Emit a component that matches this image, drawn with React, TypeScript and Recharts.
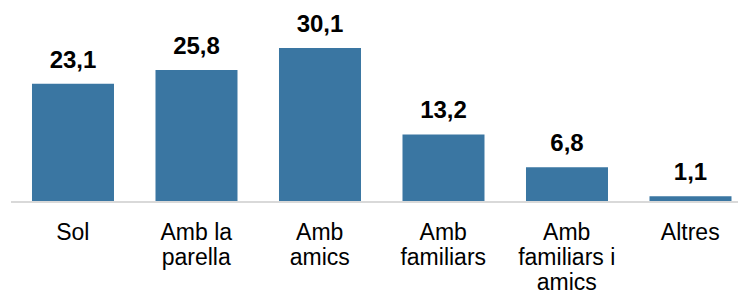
import { BarChart, Bar, XAxis, YAxis, LabelList } from "recharts";

const categories = [
    "Sol",
    "Amb la\nparella",
    "Amb\namics",
    "Amb\nfamiliars",
    "Amb\nfamiliars i\namics",
    "Altres",
];
const values = [23.1, 25.8, 30.1, 13.2, 6.8, 1.1];

const data = categories.map((name, i) => ({ name, value: values[i] }));

const FONT = "'Liberation Sans', Arial, sans-serif";

function CategoryTick({ x, y, payload }: any) {
    const lines = String(payload.value).split("\n");
    return (
        <text x={x} y={y} textAnchor="middle" fill="#000" fontSize={23} fontFamily={FONT}>
            {lines.map((line, i) => (
                <tspan key={i} x={x} dy={i === 0 ? 30 : 25}>
                    {line}
                </tspan>
            ))}
        </text>
    );
}

export default function App() {
    // wrapper cancels the body margin so chart coords match the page
    return (
        <div style={{ margin: -8, width: 746, height: 304, overflow: "hidden", background: "#fff" }}>
            <BarChart
                width={752}
                height={296}
                data={data}
                margin={{ top: 48, right: 0, left: 11, bottom: 0 }}
                barCategoryGap="17%"
                style={{ overflow: "visible" }}
            >
                <XAxis
                    dataKey="name"
                    height={94}
                    interval={0}
                    tickLine={false}
                    axisLine={{ stroke: "#d9d9d9", strokeWidth: 2 }}
                    tick={<CategoryTick />}
                />
                <YAxis hide domain={[0, "dataMax"]} />
                <Bar dataKey="value" fill="#3a76a2" isAnimationActive={false}>
                    <LabelList
                        dataKey="value"
                        position="top"
                        offset={16}
                        fill="#000"
                        fontSize={24}
                        fontWeight="bold"
                        fontFamily={FONT}
                        formatter={(v: any) => Number(v).toFixed(1).replace(".", ",")}
                    />
                </Bar>
            </BarChart>
        </div>
    );
}
